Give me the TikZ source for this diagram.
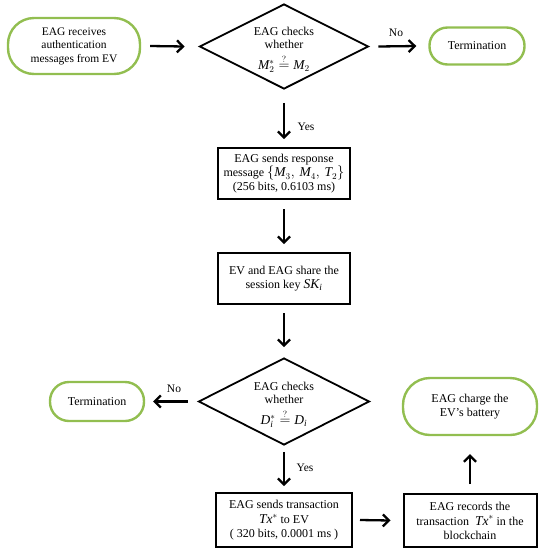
\documentclass[tikz,border=0pt]{standalone}
\usepackage{fontspec}
\setmainfont{Liberation Serif}
\usetikzlibrary{arrows.meta,shapes.geometric}
\definecolor{termgreen}{RGB}{146,190,80}
\newcommand\mymath[1]{{\fontsize{13.5}{14}\selectfont$#1$}}
\begin{document}
\begin{tikzpicture}[x=1pt,y=-1pt,
  every node/.style={font=\fontsize{12}{13.5}\selectfont},
  term/.style={draw=termgreen,line width=2.4pt,align=center,inner sep=0pt},
  procbox/.style={draw=black,line width=2pt,align=center,inner sep=0pt},
  decis/.style={draw=black,line width=1.8pt,diamond,inner sep=0pt},
  dtext/.style={align=center,inner sep=0pt},
  arr/.style={line width=2.3pt,-{Straight Barb[length=6pt,width=12pt]}},
  lbl/.style={font=\fontsize{11.5}{12}\selectfont,inner sep=0pt}]
\useasboundingbox (0,0) rectangle (545,550);

% top row
\node[term,minimum width=132pt,minimum height=56pt,rounded corners=26pt,
  font=\fontsize{11.5}{13.5}\selectfont] (start) at (74,46)
  {EAG receives\\authentication\\messages from EV};
\node[decis,minimum width=169pt,minimum height=85pt] (d1) at (284,46.5) {};
\node[dtext] (d1t) at (284,50) {EAG checks\\whether\\[5pt]\mymath{\mathit{M}_2^{*}\stackrel{?}{=}\mathit{M}_2}};
\node[term,minimum width=95pt,minimum height=37pt,rounded corners=18pt] (t1) at (477,46) {Termination};

% middle column
\node[procbox,minimum width=132pt,minimum height=51pt] (b2) at (284,173.5)
  {EAG sends response\\[1pt]message \mymath{\{\mathit{M}_3,\,\mathit{M}_4,\,\mathit{T}_2\}}\\(256 bits, 0.6103 ms)};
\node[procbox,minimum width=132pt,minimum height=51pt] (b3) at (284,278.5)
  {EV and EAG share the\\[1pt]session key \mymath{\mathit{SK}_{\mathit{i}}}};
\node[decis,minimum width=171pt,minimum height=87pt] (d2) at (284,401.5) {};
\node[dtext] (d2t) at (284,405) {EAG checks\\whether\\[5pt]\mymath{\mathit{D}_{\mathit{i}}^{*}\stackrel{?}{=}\mathit{D}_{\mathit{i}}}};
\node[term,minimum width=94pt,minimum height=39pt,rounded corners=19pt] (t2) at (97,401.5) {Termination};
\node[term,minimum width=134pt,minimum height=57pt,rounded corners=27pt] (ch) at (470,406.5)
  {EAG charge the\\EV’s battery};

% bottom row
\node[procbox,minimum width=136pt,minimum height=54pt] (btx) at (284,520)
  {EAG sends transaction\\[2pt]\mymath{\mathit{Tx}^{*}} to EV\\( 320 bits, 0.0001 ms )};
\node[procbox,minimum width=133pt,minimum height=53pt] (brec) at (470,520.5)
  {EAG records the\\[2pt]transaction \ \mymath{\mathit{Tx}^{*}} in the\\blockchain};

% connectors
\draw[arr] ([xshift=9pt]start.east) -- ([xshift=-14pt]d1.west);
\draw[arr] ([xshift=9pt]d1.east) -- ([xshift=-12pt]t1.west);
\node[lbl] (no1) at (396,33) {No};
\draw[arr] ([yshift=-13pt]d1.south) -- ([yshift=8pt]b2.north);
\node[lbl] (yes1) at (306,127) {Yes};
\draw[arr] ([yshift=-9pt]b2.south) -- ([yshift=8pt]b3.north);
\draw[arr] ([yshift=-8pt]b3.south) -- ([yshift=10pt]d2.north);
\draw[arr] ([xshift=-10pt]d2.west) -- ([xshift=8pt]t2.east);
\node[lbl] (no2) at (174,389) {No};
\draw[arr] ([yshift=-6pt]d2.south) -- ([yshift=6pt]btx.north);
\node[lbl] (yes2) at (305,468) {Yes};
\draw[arr] ([xshift=7pt]btx.east) -- ([xshift=-12pt]brec.west);
\draw[arr] ([yshift=9pt]brec.north) -- ([yshift=-18pt]ch.south);
\end{tikzpicture}
\end{document}
